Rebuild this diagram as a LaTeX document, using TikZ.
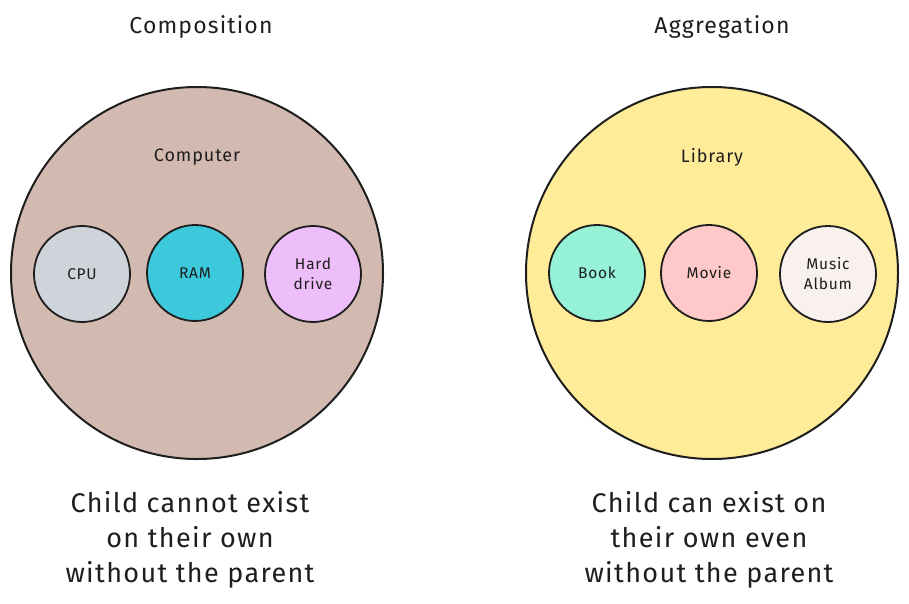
\documentclass[tikz,border=0pt]{standalone}
\usepackage{fontspec}
\setmainfont{Fira Sans}[LetterSpace=5]
\definecolor{ink}{HTML}{1E1E1E}
\definecolor{brownfill}{HTML}{D2BAB0}
\definecolor{yellowfill}{HTML}{FFEC99}
\definecolor{cpufill}{HTML}{CED4DA}
\definecolor{ramfill}{HTML}{3BC9DB}
\definecolor{hdfill}{HTML}{EEBEFA}
\definecolor{bookfill}{HTML}{96F2D7}
\definecolor{moviefill}{HTML}{FFC9C9}
\definecolor{musicfill}{HTML}{F8F1EE}
\begin{document}
\begin{tikzpicture}[x=1pt,y=-1pt,
  bigcircle/.style={circle,draw=ink,line width=2pt,minimum size=372pt,inner sep=0pt},
  smallcircle/.style={circle,draw=ink,line width=1.8pt,minimum size=96pt,inner sep=0pt,
    font=\fontsize{15.5}{20}\selectfont,text=ink,align=center},
  title/.style={font=\fontsize{23}{26}\selectfont,text=ink},
  inlabel/.style={font=\fontsize{18}{22}\selectfont,text=ink},
  caption/.style={font=\fontsize{27}{35}\selectfont,text=ink,align=center}]
\useasboundingbox (0,0) rectangle (909,603);
\node[title] (tcomp) at (201,27) {Composition};
\node[title] (tagg) at (722,27) {Aggregation};
\node[bigcircle,fill=brownfill] (computer) at (197,273) {};
\node[bigcircle,fill=yellowfill] (library) at (712,273) {};
\node[inlabel] (lcomputer) at (197,157) {Computer};
\node[inlabel] (llibrary) at (712,157) {Library};
\node[smallcircle,fill=cpufill] (cpu) at (82,274) {CPU};
\node[smallcircle,fill=ramfill] (ram) at (195,273) {RAM};
\node[smallcircle,fill=hdfill] (hd) at (313,274) {Hard\\drive};
\node[smallcircle,fill=bookfill] (book) at (597,273) {Book};
\node[smallcircle,fill=moviefill] (movie) at (709,273) {Movie};
\node[smallcircle,fill=musicfill] (music) at (828,274) {Music\\Album};
\node[caption] (ccomp) at (190,540) {Child cannot exist\\on their own\\without the parent};
\node[caption] (cagg) at (709,540) {Child can exist on\\their own even\\without the parent};
\end{tikzpicture}
\end{document}
